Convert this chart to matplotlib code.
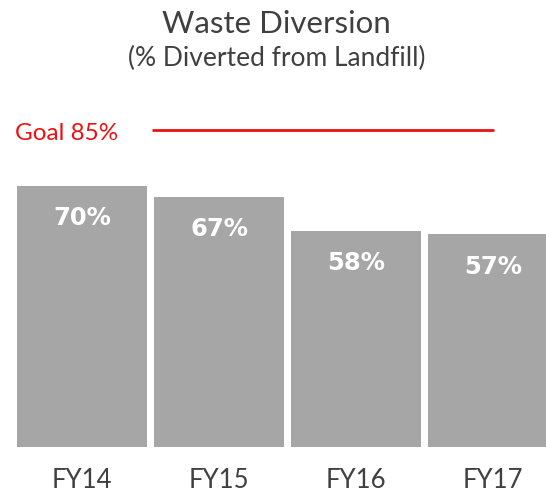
import matplotlib
matplotlib.use('Agg')
from matplotlib import pyplot as plt
from matplotlib.transforms import blended_transform_factory

years = ['FY14', 'FY15', 'FY16', 'FY17']
diverted = [70, 67, 58, 57]
goal = 85

plt.rcParams['font.family'] = ['Lato', 'DejaVu Sans']

W, H = 546, 493
fig = plt.figure(figsize=(W / 100, H / 100), dpi=100)
ax = fig.add_axes([0, 46 / H, 1, 373 / H])

x = list(range(len(years)))
ax.bar(x, diverted, width=0.949, color='#a6a6a6')

# value labels inside the bars
for xi, v in zip(x, diverted):
    ax.text(xi, v - 10.5, '%d%%' % v, ha='center', va='baseline',
            color='white', fontsize=17.5, fontweight='bold', family='DejaVu Sans')

# goal line
ax.hlines(goal, 0.511, 3.007, color='#ee1111', linewidth=2)
ax.text(15 / W, 1 - 140 / H, 'Goal %d%%' % goal, transform=fig.transFigure,
        ha='left', va='baseline', color='#ee1111', fontsize=17.5)

ax.set_xlim(-82 / 137, 464 / 137)
ax.set_ylim(0, 100)
ax.set_xticks([])
ax.set_yticks([])
for s in ax.spines.values():
    s.set_visible(False)

# category labels under bars
trans = blended_transform_factory(ax.transData, fig.transFigure)
for xi, lab in zip(x, years):
    ax.text(xi, 1 - 488 / H, lab, transform=trans, ha='center', va='baseline',
            fontsize=18.5, color='#404040')

fig.text(276.5 / W, 1 - 33 / H, 'Waste Diversion', ha='center', va='baseline',
         fontsize=22.5, color='#404040')
fig.text(276.5 / W, 1 - 66 / H, '(% Diverted from Landfill)', ha='center',
         va='baseline', fontsize=19, color='#404040')

fig.savefig('out.png', dpi=100)
